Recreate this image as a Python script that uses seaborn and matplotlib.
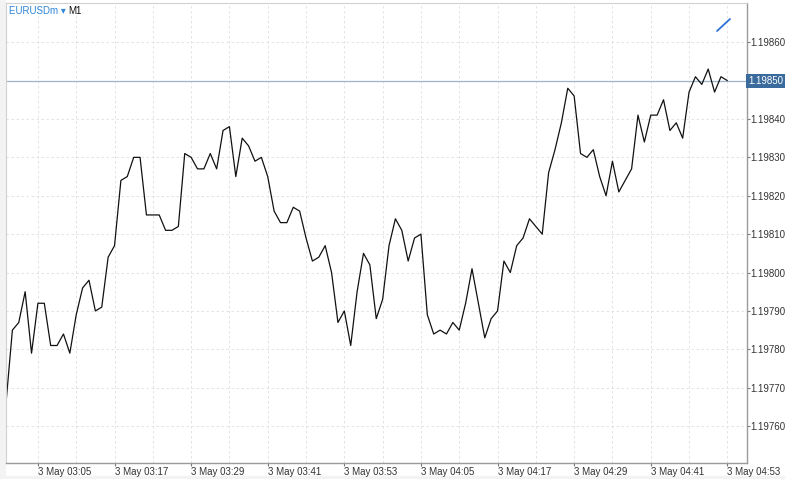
import matplotlib
matplotlib.use("Agg")
import matplotlib.pyplot as plt
import matplotlib.dates as mdates
import matplotlib.patches as mpatches
import seaborn as sns
import pandas as pd

symbol = "EURUSDm"
timeframe = "M1"
start_time = "2021-05-03 03:00"
prices = [
    1.19766, 1.19785, 1.19787, 1.19795, 1.19779, 1.19792, 1.19792, 1.19781, 1.19781, 1.19784,
    1.19779, 1.19789, 1.19796, 1.19798, 1.19790, 1.19791, 1.19804, 1.19807, 1.19824, 1.19825,
    1.19830, 1.19830, 1.19815, 1.19815, 1.19815, 1.19811, 1.19811, 1.19812, 1.19831, 1.19830,
    1.19827, 1.19827, 1.19831, 1.19827, 1.19837, 1.19838, 1.19825, 1.19835, 1.19833, 1.19829,
    1.19830, 1.19825, 1.19816, 1.19813, 1.19813, 1.19817, 1.19816, 1.19809, 1.19803, 1.19804,
    1.19807, 1.19800, 1.19787, 1.19790, 1.19781, 1.19795, 1.19805, 1.19802, 1.19788, 1.19793,
    1.19807, 1.19814, 1.19811, 1.19803, 1.19809, 1.19810, 1.19789, 1.19784, 1.19785, 1.19784,
    1.19787, 1.19785, 1.19792, 1.19801, 1.19792, 1.19783, 1.19788, 1.19790, 1.19803, 1.19800,
    1.19807, 1.19809, 1.19814, 1.19812, 1.19810, 1.19826, 1.19832, 1.19839, 1.19848, 1.19846,
    1.19831, 1.19830, 1.19832, 1.19825, 1.19820, 1.19829, 1.19821, 1.19824, 1.19827, 1.19841,
    1.19834, 1.19841, 1.19841, 1.19845, 1.19837, 1.19839, 1.19835, 1.19847, 1.19851, 1.19849,
    1.19853, 1.19847, 1.19851, 1.19850,
]
current_price = 1.19850
y_ticks = [1.19760, 1.19770, 1.19780, 1.19790, 1.19800, 1.19810, 1.19820,
           1.19830, 1.19840, 1.19850, 1.19860]

times = pd.date_range(start_time, periods=len(prices), freq="min")
df = pd.DataFrame({"time": times, "price": prices})

sns.set_theme(style="white")
plt.rcParams["font.family"] = ["Liberation Sans", "DejaVu Sans"]

FS = 7
W, H = 785, 479
fig = plt.figure(figsize=(W / 100, H / 100), dpi=100, facecolor="white")
# light grey frame strips (behind everything)
fig.patches.append(mpatches.Rectangle((0, 0), 1, 3 / H, transform=fig.transFigure,
                                      color="#f3f3f3", zorder=-5))
fig.patches.append(mpatches.Rectangle((0, 0), 5 / W, 1, transform=fig.transFigure,
                                      color="#f3f3f3", zorder=-5))

left, right, top, bottom = 6, 746.5, 3, 463
ax = fig.add_axes([left / W, (H - bottom) / H, (right - left) / W, (bottom - top) / H])
ax.set_facecolor("white")

sns.lineplot(data=df, x="time", y="price", ax=ax, color="#111111", linewidth=0.9)

x0 = pd.Timestamp(start_time)
ax.set_xlim(x0, x0 + pd.Timedelta(minutes=116.0))
ax.set_ylim(1.197504, 1.198702)

# axis ticks
ax.yaxis.tick_right()
ax.set_yticks(y_ticks)
ax.set_yticklabels(["" if abs(v - current_price) < 1e-9 else f"{v:.5f}" for v in y_ticks])
ax.xaxis.set_major_locator(mdates.MinuteLocator(byminute=[5, 17, 29, 41, 53]))
ax.xaxis.set_minor_locator(mdates.MinuteLocator(byminute=[5, 11, 17, 23, 29, 35, 41, 47, 53, 59]))
ax.xaxis.set_major_formatter(mdates.DateFormatter("3 May %H:%M"))
ax.tick_params(axis="x", which="major", length=2, width=0.8, color="#777777",
               labelsize=FS, labelcolor="#333333", pad=1.0, direction="out", bottom=True)
ax.tick_params(axis="x", which="minor", length=0)
ax.tick_params(axis="y", which="major", length=2, width=0.8, color="#777777",
               labelsize=FS, labelcolor="#333333", pad=0.6, direction="out", right=True)
for lbl in ax.get_xticklabels():
    lbl.set_horizontalalignment("left")

ax.set_xlabel("")
ax.set_ylabel("")

ax.grid(True, which="both", axis="x", color="#dedede", linestyle=(0, (3, 3)), linewidth=0.6)
ax.grid(True, which="major", axis="y", color="#dedede", linestyle=(0, (3, 3)), linewidth=0.6)

for side in ["left", "top"]:
    ax.spines[side].set_color("#d0d0d0")
    ax.spines[side].set_linewidth(0.8)
for side in ["right", "bottom"]:
    ax.spines[side].set_color("#9a9a9a")
    ax.spines[side].set_linewidth(1.0)

# current price line and label
ax.axhline(current_price, color="#9db3c9", linewidth=0.9, zorder=1)
ax.annotate(f"{current_price:.5f}", xy=(1.0, current_price),
            xycoords=("axes fraction", "data"), xytext=(1.0, 0), textcoords="offset points",
            ha="left", va="center", fontsize=FS, color="white",
            bbox=dict(boxstyle="square,pad=0.2", fc="#3a6b9c", ec="none"))

# title
ty = 1 - 8 / (bottom - top)
tx = 3 / (right - left)
t = ax.text(tx, ty, f"{symbol} \u25be ", transform=ax.transAxes, fontsize=FS,
            color="#2f86d8", ha="left", va="center")
fig.canvas.draw()
bb = t.get_window_extent()
x_end = ax.transAxes.inverted().transform((bb.x1, bb.y0))[0]
ax.text(x_end, ty, timeframe, transform=ax.transAxes,
        fontsize=FS, color="#111111", ha="left", va="center")

# small blue trade-tool glyph at top right
ax.plot([(717 - left) / (right - left), (730 - left) / (right - left)],
        [1 - (31 - top) / (bottom - top), 1 - (19 - top) / (bottom - top)],
        transform=ax.transAxes, color="#2f6fd8", linewidth=1.3, solid_capstyle="round")

fig.savefig("out.png", dpi=100, facecolor=fig.get_facecolor())
